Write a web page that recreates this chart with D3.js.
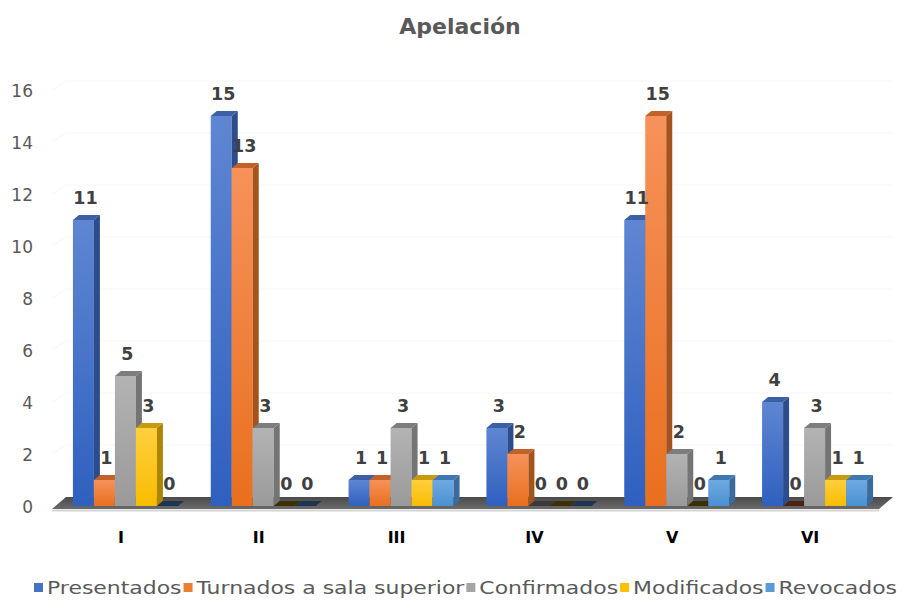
<!DOCTYPE html>
<html><head><meta charset="utf-8">
<script src="https://cdn.jsdelivr.net/npm/d3@7"></script>
<style>body{margin:0;background:#fff;} svg{display:block;}</style>
</head><body>
<svg id="chart" width="902" height="603"></svg>
<script>
const categories = ["I","II","III","IV","V","VI"];
const seriesNames = ["Presentados","Turnados a sala superior","Confirmados","Modificados","Revocados"];
const presentados = [11,15,1,3,11,4];
const turnados = [1,13,1,2,15,0];
const confirmados = [5,3,3,0,2,3];
const modificados = [3,0,1,0,0,1];
const revocados = [0,0,1,0,1,1];
const yTicks = [0,2,4,6,8,10,12,14,16];
const title = "Apelación";

const seriesValues = [presentados,turnados,confirmados,modificados,revocados];
const palette = [
  {top:"#3d5fa3", f1:"#5f86d2", f2:"#2f60bf", side:"#2c4c8c", zero:"#1e3358"},
  {top:"#c2622a", f1:"#f6925a", f2:"#e96f1e", side:"#a5531c", zero:"#4a2410"},
  {top:"#7d7d7d", f1:"#b3b3b3", f2:"#9a9a9a", side:"#747474", zero:"#3a3a3a"},
  {top:"#c89a10", f1:"#ffcf3d", f2:"#f8bd00", side:"#ad8500", zero:"#3d3000"},
  {top:"#3f77b0", f1:"#6eaae2", f2:"#4b90d2", side:"#3a6b9c", zero:"#1d3550"}
];
const legendColors = ["#4472C4","#ED7D31","#A5A5A5","#FFC000","#5B9BD5"];

const svg = d3.select("#chart");
const defs = svg.append("defs");
palette.forEach((p,i)=>{
  const g = defs.append("linearGradient").attr("id","g"+i).attr("x1",0).attr("y1",0).attr("x2",0).attr("y2",1);
  g.append("stop").attr("offset","0%").attr("stop-color",p.f1);
  g.append("stop").attr("offset","100%").attr("stop-color",p.f2);
});
const fg = defs.append("linearGradient").attr("id","floorg").attr("x1",0).attr("y1",0).attr("x2",0).attr("y2",1);
fg.append("stop").attr("offset","0%").attr("stop-color","#4a4a4a");
fg.append("stop").attr("offset","100%").attr("stop-color","#6a6a6a");

const y = d3.scaleLinear().domain([0,16]).range([506,90]);
const x0 = d3.scaleBand().domain(categories).range([52,879]);
const x1 = d3.scaleBand().domain(seriesNames).range([0,105]);
const dx = 6, dy = -5;
const groupOffset = (x0.bandwidth()-105)/2 + 4.5;

// faint gridlines on back wall
svg.append("g").selectAll("path").data(yTicks.slice(1)).join("path")
  .attr("d", t => `M52,${y(t)} L${52+14},${y(t)-9} L893,${y(t)-9}`)
  .attr("fill","none").attr("stroke","#f7f7f7").attr("stroke-width",1);

// floor
svg.append("path")
  .attr("d", `M52,509 L66,497 L893,497 L879,509 Z`)
  .attr("fill","url(#floorg)");
svg.append("line").attr("x1",52).attr("x2",879).attr("y1",510.5).attr("y2",510.5)
  .attr("stroke","#d4d4d4").attr("stroke-width",2);

// y axis labels
svg.append("g").selectAll("text").data(yTicks).join("text")
  .attr("x",33).attr("y",t=>y(t)+1).attr("dy","0.35em").attr("text-anchor","end")
  .attr("font-family","DejaVu Sans, sans-serif").attr("font-size",17).attr("fill","#595959")
  .text(d=>d);

// bars
const bars = [];
categories.forEach((c,ci)=>{
  seriesNames.forEach((s,si)=>{
    bars.push({c, s, si, v: seriesValues[si][ci]});
  });
});
const barG = svg.append("g");
bars.forEach(b=>{
  const xl = x0(b.c) + groupOffset + x1(b.s);
  const w = x1.bandwidth();
  const yt = y(b.v), yb = y(0);
  const p = palette[b.si];
  const g = barG.append("g");
  if (b.v > 0) {
    g.append("rect").attr("x",xl).attr("y",yt).attr("width",w).attr("height",yb-yt).attr("fill",`url(#g${b.si})`);
    g.append("path").attr("d",`M${xl+w},${yt} L${xl+w+dx},${yt+dy} L${xl+w+dx},${yb+dy} L${xl+w},${yb} Z`).attr("fill",p.side);
    g.append("path").attr("d",`M${xl},${yt} L${xl+dx},${yt+dy} L${xl+w+dx},${yt+dy} L${xl+w},${yt} Z`).attr("fill",p.top);
  } else {
    g.append("path").attr("d",`M${xl},${yb} L${xl+dx},${yb+dy} L${xl+w+dx},${yb+dy} L${xl+w},${yb} Z`).attr("fill",p.zero);
  }
});

// data labels
svg.append("g").selectAll("text").data(bars).join("text")
  .attr("x", b => x0(b.c) + groupOffset + x1(b.s) + x1.bandwidth()/2 + 2)
  .attr("y", b => y(b.v) - 16)
  .attr("text-anchor","middle")
  .attr("font-family","DejaVu Sans, sans-serif").attr("font-weight","bold").attr("font-size",17.5)
  .attr("fill","#404040")
  .text(b => b.v);

// category labels
svg.append("g").selectAll("text").data(categories).join("text")
  .attr("x", c => x0(c) + x0.bandwidth()/2)
  .attr("y", 537).attr("dy","0.35em").attr("text-anchor","middle")
  .attr("font-family","DejaVu Sans, sans-serif").attr("font-weight","bold").attr("font-size",16)
  .attr("fill","#000")
  .text(c=>c);

// title
svg.append("text").attr("x",460).attr("y",26).attr("dy","0.35em").attr("text-anchor","middle")
  .attr("font-family","DejaVu Sans, sans-serif").attr("font-weight","bold").attr("font-size",22)
  .attr("fill","#595959").text(title);

// legend
const lg = svg.append("g");
const legendLeft = 34, legendRight = 897;
const texts = [];
seriesNames.forEach((s,i)=>{
  const it = lg.append("g");
  it.append("rect").attr("x",0).attr("y",-5).attr("width",9).attr("height",9).attr("fill",legendColors[i]);
  const t = it.append("text").attr("x",13).attr("y",0).attr("dy","0.35em")
    .attr("font-family","DejaVu Sans, sans-serif").attr("font-size",17.5).attr("fill","#595959").text(s);
  texts.push({it, t, w: t.node().getComputedTextLength()});
});
const sumText = d3.sum(texts, d=>d.w);
const fixed = texts.length*13 + (texts.length-1)*2;
const k = (legendRight - legendLeft - fixed) / sumText;
let lx = legendLeft;
texts.forEach(d=>{
  const w = d.w * k;
  d.t.attr("textLength", w).attr("lengthAdjust","spacingAndGlyphs");
  d.it.attr("transform",`translate(${lx},588)`);
  lx += 13 + w + 2;
});
</script>
</body></html>
